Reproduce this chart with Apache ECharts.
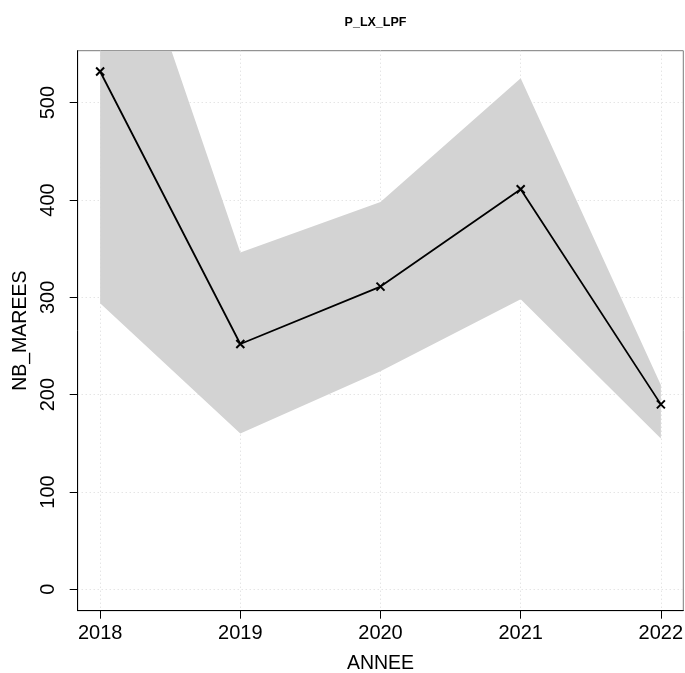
<!DOCTYPE html>
<html><head><meta charset="utf-8">
<script src="https://cdn.jsdelivr.net/npm/echarts@6/dist/echarts.min.js"></script>
<style>html,body{margin:0;padding:0;background:#fff}#c{width:685px;height:673px}</style>
</head><body><div id="c"></div>
<script>
const years = [2018, 2019, 2020, 2021, 2022];
const nbMarees = [532, 252, 311, 411, 190];
const lowerBand = [294, 160, 224, 298, 155];
const upperBand = [768, 346, 398, 525, 210];
const yTicks = [0, 100, 200, 300, 400, 500];
const xTicks = [2018, 2019, 2020, 2021, 2022];

const pts = a => years.map((y, i) => [y, a[i]]);
const font = 'Liberation Sans, Arial, Helvetica, sans-serif';

const chart = echarts.init(document.getElementById('c'), null, {renderer: 'canvas'});
chart.setOption({
  animation: false,
  title: {text: 'P_LX_LPF', left: 370.5, top: 11, textAlign: 'center',
    textStyle: {fontFamily: font, fontSize: 12.5, fontWeight: 'bold', color: '#000'}},
  grid: {left: 77.7, right: 1.7, top: 50.7, bottom: 62.3, containLabel: false, outerBoundsMode: 'none',
    show: true, borderColor: '#7a7a7a', borderWidth: 1, backgroundColor: '#fff'},
  xAxis: {type: 'value', min: 2017.84, max: 2022.16,
    name: 'ANNEE', nameLocation: 'middle', nameGap: 43,
    nameTextStyle: {fontFamily: font, fontSize: 19.5, color: '#000'},
    axisLine: {show: true, onZero: false, lineStyle: {color: '#000', width: 1}},
    axisTick: {show: true, length: 8, customValues: xTicks, lineStyle: {color: '#000'}},
    axisLabel: {customValues: xTicks, formatter: v => String(v), fontFamily: font, fontSize: 20, color: '#000', margin: 13},
    splitLine: {show: true, lineStyle: {color: '#d9d9d9', type: [1, 3], width: 1}}
  },
  yAxis: {type: 'value', min: -22, max: 553.4,
    name: 'NB_MAREES', nameLocation: 'middle', nameGap: 46, nameRotate: 90,
    nameTextStyle: {fontFamily: font, fontSize: 19.5, color: '#000'},
    axisLine: {show: true, onZero: false, lineStyle: {color: '#000', width: 1}},
    axisTick: {show: true, length: 8, customValues: yTicks, lineStyle: {color: '#000'}},
    axisLabel: {customValues: yTicks, formatter: v => String(v), rotate: 90, fontFamily: font, fontSize: 20, color: '#000', margin: 19},
    splitLine: {show: true, lineStyle: {color: '#d9d9d9', type: [1, 3], width: 1}}
  },
  series: [
    {type: 'custom', z: 1, silent: true, clip: true,
      data: [0],
      renderItem: (params, api) => {
        const up = years.map((y, i) => api.coord([y, upperBand[i]]));
        const lo = years.map((y, i) => api.coord([y, lowerBand[i]])).reverse();
        const cs = params.coordSys;
        return {type: 'polygon', shape: {points: up.concat(lo)},
          clipPath: {type: 'rect', shape: {x: cs.x, y: cs.y, width: cs.width, height: cs.height}},
          style: {fill: '#d3d3d3', stroke: null}};
      }},
    {type: 'line', data: pts(nbMarees), z: 3,
      lineStyle: {color: '#000', width: 1.8},
      symbol: 'path://M0,0L10,10M10,0L0,10', symbolSize: 8, showAllSymbol: true,
      itemStyle: {color: 'none', borderColor: '#000', borderWidth: 2}}
  ]
});
</script></body></html>
